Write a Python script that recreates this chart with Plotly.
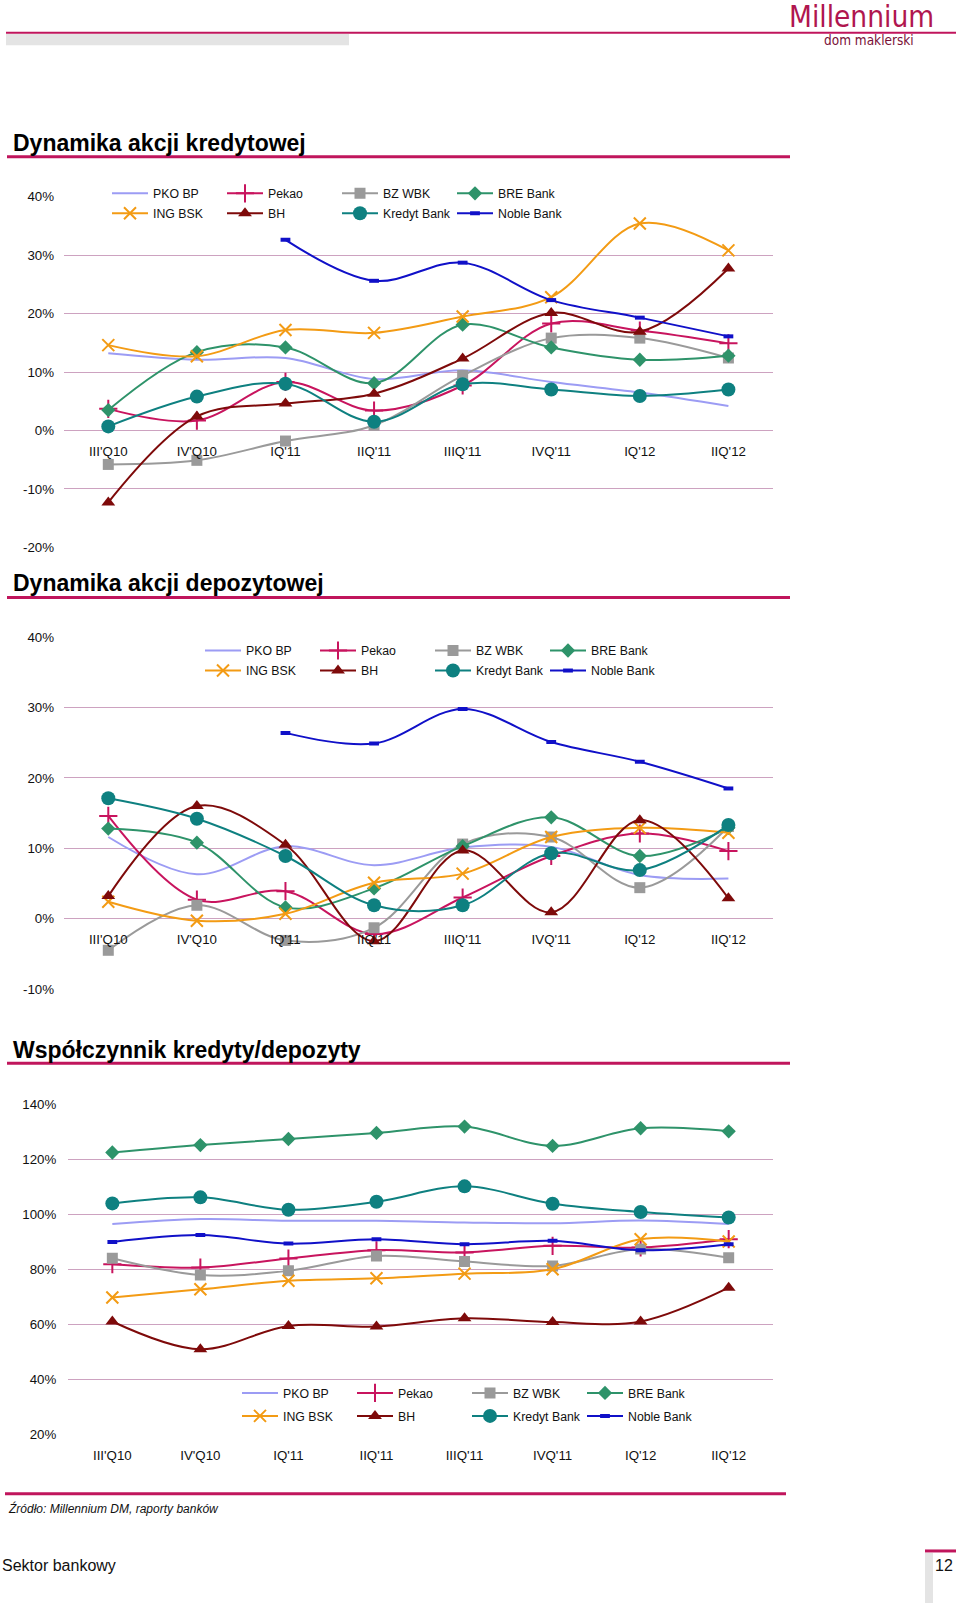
import plotly.graph_objects as go

W, H = 960, 1611
# measured vertical mapping of the photographed page: shown_y = A * page_y + B
A, B = 0.9902, 6.8

# ---------------- data ----------------
quarters = ["III'Q10", "IV'Q10", "IQ'11", "IIQ'11", "IIIQ'11", "IVQ'11", "IQ'12", "IIQ'12"]
banks = ["PKO BP", "Pekao", "BZ WBK", "BRE Bank", "ING BSK", "BH", "Kredyt Bank", "Noble Bank"]

# Dynamika akcji kredytowej (%)
credit_pko = [13.2, 12.1, 12.4, 8.8, 10.3, 8.3, 6.5, 4.2]
credit_pekao = [3.7, 1.7, 8.3, 3.4, 7.7, 18.3, 17.1, 14.9]
credit_bzwbk = [-5.8, -5.1, -1.8, 0.9, 9.4, 15.8, 15.8, 12.4]
credit_bre = [3.5, 13.4, 14.2, 8.1, 18.1, 14.2, 12.1, 12.8]
credit_ing = [14.6, 12.7, 17.2, 16.7, 19.5, 22.8, 35.4, 30.8]
credit_bh = [-12.3, 2.4, 4.6, 6.3, 12.3, 20.1, 16.9, 27.7]
credit_kredyt = [0.7, 5.8, 8.0, 1.5, 7.9, 7.0, 5.9, 7.0]
credit_noble = [None, None, 32.6, 25.6, 28.7, 22.3, 19.3, 16.1]

# Dynamika akcji depozytowej (%)
deposit_pko = [11.6, 6.3, 10.3, 7.6, 10.1, 10.2, 6.2, 5.7]
deposit_pekao = [14.6, 2.7, 3.9, -2.2, 3.0, 8.9, 12.1, 9.6]
deposit_bzwbk = [-4.5, 1.9, -3.1, -1.3, 10.6, 11.6, 4.4, 13.1]
deposit_bre = [12.8, 10.8, 1.6, 4.3, 10.3, 14.4, 8.9, 12.9]
deposit_ing = [2.4, -0.3, 0.7, 5.1, 6.4, 11.6, 12.9, 12.2]
deposit_bh = [3.2, 16.0, 10.5, -3.2, 9.7, 0.9, 14.0, 2.9]
deposit_kredyt = [17.1, 14.2, 8.9, 1.9, 1.9, 9.3, 6.9, 13.3]
deposit_noble = [None, None, 26.4, 24.9, 29.8, 25.1, 22.3, 18.5]

# Wspolczynnik kredyty/depozyty (%)
ratio_pko = [96.4, 98.2, 97.6, 97.6, 97.0, 96.7, 97.7, 96.4]
ratio_pekao = [81.8, 80.6, 83.9, 86.9, 86.1, 88.5, 87.9, 90.9]
ratio_bzwbk = [84.0, 77.9, 79.4, 84.8, 82.8, 81.2, 87.3, 84.2]
ratio_bre = [122.4, 125.1, 127.3, 129.5, 131.8, 124.8, 131.2, 130.1]
ratio_ing = [69.7, 72.7, 75.8, 76.7, 78.4, 80.0, 90.9, 90.1]
ratio_bh = [61.0, 50.9, 59.4, 59.2, 62.2, 60.8, 61.0, 73.3]
ratio_kredyt = [103.9, 106.1, 101.6, 104.5, 110.1, 103.8, 100.8, 98.8]
ratio_noble = [89.9, 92.4, 89.3, 90.9, 89.1, 90.3, 86.9, 89.1]

ticks_credit = [-20, -10, 0, 10, 20, 30, 40]
labels_credit = ["-20%", "-10%", "0%", "10%", "20%", "30%", "40%"]
ticks_deposit = [-10, 0, 10, 20, 30, 40]
labels_deposit = ["-10%", "0%", "10%", "20%", "30%", "40%"]
ticks_ratio = [20, 40, 60, 80, 100, 120, 140]
labels_ratio = ["20%", "40%", "60%", "80%", "100%", "120%", "140%"]

titles = ["Dynamika akcji kredytowej", "Dynamika akcji depozytowej",
          "Współczynnik kredyty/depozyty"]

# ---------------- styles ----------------
FONT = "Liberation Sans, Arial, sans-serif"
NARROW = "Liberation Sans Narrow, DejaVu Sans Condensed, Liberation Sans, sans-serif"
ACCENT = "#C0155C"
GRID = "#CDA2C0"

styles = {
    "PKO BP": dict(color="#9C9CF4", symbol=None, size=0),
    "Pekao": dict(color="#C8145E", symbol="cross-thin", size=13),
    "BZ WBK": dict(color="#9A9A9A", symbol="square", size=11),
    "BRE Bank": dict(color="#2E936A", symbol="diamond", size=11),
    "ING BSK": dict(color="#F39B14", symbol="x-thin", size=12),
    "BH": dict(color="#7E0A0A", symbol="triangle-up", size=12),
    "Kredyt Bank": dict(color="#0E8080", symbol="circle", size=14),
    "Noble Bank": dict(color="#1010C8", symbol="line-ew", size=7),
}

series_sets = [
    [credit_pko, credit_pekao, credit_bzwbk, credit_bre, credit_ing, credit_bh, credit_kredyt, credit_noble],
    [deposit_pko, deposit_pekao, deposit_bzwbk, deposit_bre, deposit_ing, deposit_bh, deposit_kredyt, deposit_noble],
    [ratio_pko, ratio_pekao, ratio_bzwbk, ratio_bre, ratio_ing, ratio_bh, ratio_kredyt, ratio_noble],
]

# pixel geometry of each panel (target pixels)
panels = [
    dict(x0=64, x1=772.7, ytop=196.3, ybot=547.0, lo=-20, hi=40,
         tv=ticks_credit, tt=labels_credit, title_y=142.5, line_y=156.5,
         leg_x=107, leg_y=(193, 213), xlab_at_zero=True, ystand=9),
    dict(x0=64, x1=772.7, ytop=636.7, ybot=988.3, lo=-10, hi=40,
         tv=ticks_deposit, tt=labels_deposit, title_y=583, line_y=597,
         leg_x=200, leg_y=(650, 670), xlab_at_zero=True, ystand=9),
    dict(x0=68.3, x1=772.7, ytop=1103.3, ybot=1433.5, lo=20, hi=140,
         tv=ticks_ratio, tt=labels_ratio, title_y=1049, line_y=1062.5,
         leg_x=237, leg_y=(1392, 1415), xlab_at_zero=False, ystand=11),
]


def fx(p):
    return p / W


def fy(p):
    return 1 - ((p - B) / A) / H


fig = go.Figure()
layout = dict(width=W, height=H, margin=dict(l=0, r=0, t=0, b=0),
              paper_bgcolor="white", plot_bgcolor="rgba(0,0,0,0)",
              font=dict(family=FONT, color="#111"), showlegend=True,
              shapes=[], annotations=[], hovermode=False)

for i, (pan, sset) in enumerate(zip(panels, series_sets)):
    n = "" if i == 0 else str(i + 1)
    xa, ya = "x" + n, "y" + n
    y_dom = [fy(pan["ybot"]), fy(pan["ytop"])]
    layout["yaxis" + n] = dict(
        domain=y_dom, range=[pan["lo"], pan["hi"]], anchor=xa,
        tickvals=pan["tv"], ticktext=pan["tt"], showgrid=True, gridcolor=GRID,
        gridwidth=1, zeroline=False, showline=False, ticks="",
        tickfont=dict(size=13.3, color="#111"), ticklabelstandoff=pan["ystand"],
        fixedrange=True)
    xdef = dict(domain=[fx(pan["x0"]), fx(pan["x1"])], type="category",
                categoryarray=quarters, range=[-0.5, 7.5], showgrid=False,
                zeroline=False, showline=False, ticks="",
                tickfont=dict(size=13.3, color="#111"), ticklabelstandoff=11,
                fixedrange=True)
    if pan["xlab_at_zero"]:
        zero_frac = y_dom[0] + (0 - pan["lo"]) / (pan["hi"] - pan["lo"]) * (y_dom[1] - y_dom[0])
        xdef.update(anchor="free", position=zero_frac)
    else:
        xdef.update(anchor=ya)
    layout["xaxis" + n] = xdef

    leg_a = "legend" if i == 0 else "legend" + str(2 * i + 1)
    leg_b = "legend" + str(2 * i + 2)
    for j, leg_name in enumerate([leg_a, leg_b]):
        layout[leg_name] = dict(
            orientation="h", x=fx(pan["leg_x"]), y=fy(pan["leg_y"][j]),
            xanchor="left", yanchor="middle", itemwidth=36, entrywidth=64,
            entrywidthmode="pixels", font=dict(size=12.3, color="#111", family=FONT),
            bgcolor="white" if (i == 0 and j == 0) else "rgba(0,0,0,0)",
            traceorder="normal", itemclick=False, itemdoubleclick=False,
            tracegroupgap=0)

    for k, (bank, vals) in enumerate(zip(banks, sset)):
        st = styles[bank]
        if st["symbol"] is None:
            mode = "lines"
            marker = None
        else:
            mode = "lines+markers"
            marker = dict(symbol=st["symbol"], size=st["size"], color=st["color"],
                          line=dict(color=st["color"],
                                    width=2 if "thin" in st["symbol"] else (4 if st["symbol"] == "line-ew" else 0)))
        fig.add_trace(go.Scatter(
            x=quarters, y=vals, name=bank, mode=mode, marker=marker,
            line=dict(color=st["color"], width=2, shape="spline", smoothing=1.0),
            xaxis=xa, yaxis=ya, connectgaps=False,
            legend=leg_a if k < 4 else leg_b))

    layout["annotations"].append(dict(
        text="<b>" + titles[i] + "</b>", x=fx(11), y=fy(pan["title_y"]),
        xref="paper", yref="paper", xanchor="left", yanchor="middle",
        showarrow=False, font=dict(size=23, color="#000", family=FONT)))
    layout["shapes"].append(dict(type="line", xref="paper", yref="paper",
                                 x0=fx(7), x1=fx(790), y0=fy(pan["line_y"]), y1=fy(pan["line_y"]),
                                 line=dict(color=ACCENT, width=3)))

# header / footer decorations
layout["shapes"] += [
    dict(type="line", xref="paper", yref="paper", x0=fx(6), x1=fx(956),
         y0=fy(32.5), y1=fy(32.5), line=dict(color=ACCENT, width=2)),
    dict(type="rect", xref="paper", yref="paper", x0=fx(6), x1=fx(349),
         y0=fy(45), y1=fy(33.8), fillcolor="#E4E4E4", line=dict(width=0)),
    dict(type="line", xref="paper", yref="paper", x0=fx(5), x1=fx(786),
         y0=fy(1492.7), y1=fy(1492.7), line=dict(color=ACCENT, width=3)),
    dict(type="rect", xref="paper", yref="paper", x0=fx(925), x1=fx(933),
         y0=0, y1=fy(1552), fillcolor="#E4E4E4", line=dict(width=0)),
    dict(type="line", xref="paper", yref="paper", x0=fx(925), x1=fx(956),
         y0=fy(1550), y1=fy(1550), line=dict(color=ACCENT, width=3)),
]
layout["annotations"] += [
    dict(text="Millennium", x=fx(936), y=fy(17), xref="paper", yref="paper",
         xanchor="right", yanchor="middle", showarrow=False,
         font=dict(size=29.5, color="#B0164F", family=NARROW)),
    dict(text="dom maklerski", x=fx(916), y=fy(39.5), xref="paper", yref="paper",
         xanchor="right", yanchor="middle", showarrow=False,
         font=dict(size=13.5, color="#7A1038", family=NARROW)),
    dict(text="<i>Źródło: Millennium DM, raporty banków</i>", x=fx(6), y=fy(1507.7),
         xref="paper", yref="paper", xanchor="left", yanchor="middle",
         showarrow=False, font=dict(size=12, color="#111", family=FONT)),
    dict(text="Sektor bankowy", x=fx(0), y=fy(1565), xref="paper", yref="paper",
         xanchor="left", yanchor="middle", showarrow=False,
         font=dict(size=16, color="#111", family=FONT)),
    dict(text="12", x=fx(955), y=fy(1565), xref="paper", yref="paper",
         xanchor="right", yanchor="middle", showarrow=False,
         font=dict(size=16, color="#111", family=FONT)),
]

fig.update_layout(**layout)
fig.write_html(
    "out.html", config={"displayModeBar": False},
    post_script=("document.documentElement.style.margin='0';"
                 "document.body.style.margin='0';"
                 "window.scrollTo(0,0);"))
